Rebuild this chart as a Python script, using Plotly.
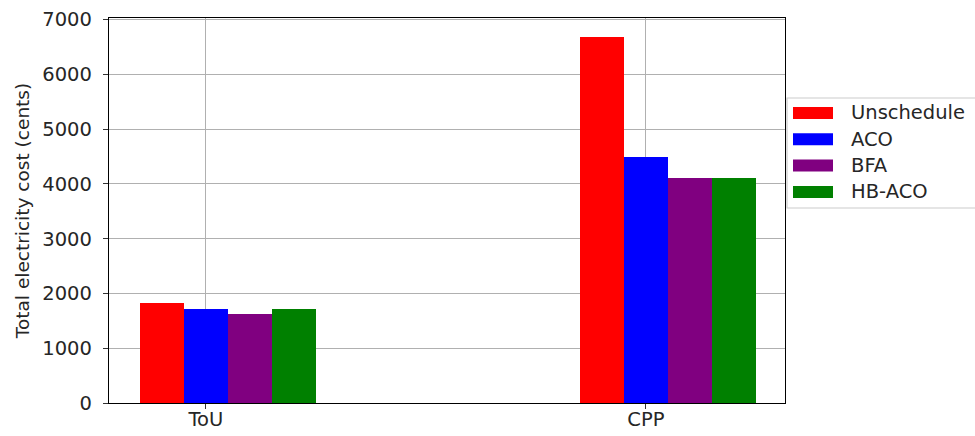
import plotly.graph_objects as go

# Cost comparison of scheduling schemes under two pricing tariffs
tariffs = ["ToU", "CPP"]
schemes = ["Unschedule", "ACO", "BFA", "HB-ACO"]
colors = ["red", "blue", "purple", "green"]
unschedule = [1820, 6690]
aco = [1720, 4500]
bfa = [1630, 4110]
hb_aco = [1720, 4110]
series = [unschedule, aco, bfa, hb_aco]
y_ticks = [0, 1000, 2000, 3000, 4000, 5000, 6000, 7000]

W, H = 975, 436
ML, MR, MT, MB = 109, 190, 18, 33
FONT = "DejaVu Sans"
FS = 19.5

bar_w = 0.1
base = list(range(len(tariffs)))

fig = go.Figure()
for i, (name, vals, col) in enumerate(zip(schemes, series, colors)):
    fig.add_trace(go.Bar(
        x=[b + (i - 1) * bar_w for b in base],
        y=vals,
        width=bar_w,
        name=name,
        marker=dict(color=col, line=dict(width=0)),
        showlegend=False,
    ))

pw = W - ML - MR
ph = H - MT - MB


def px_x(p):
    return (p - ML) / pw


def px_y(p):
    return 1 - (p - MT) / ph


# legend box with wide colour swatches
box_l, box_t, box_b = 787, 98, 208
fig.add_shape(type="rect", xref="paper", yref="paper",
              x0=px_x(box_l), x1=px_x(W + 20), y0=px_y(box_b), y1=px_y(box_t),
              line=dict(color="#cccccc", width=1.2), fillcolor="white",
              layer="above")
row0, row_gap = 113, 26.3
for i, (name, col) in enumerate(zip(schemes, colors)):
    cy = row0 + i * row_gap
    fig.add_shape(type="rect", xref="paper", yref="paper",
                  x0=px_x(793), x1=px_x(833), y0=px_y(cy + 6), y1=px_y(cy - 6),
                  line=dict(width=0), fillcolor=col, layer="above")
    fig.add_annotation(xref="paper", yref="paper", x=px_x(849), y=px_y(cy),
                       text=name, showarrow=False, xanchor="left",
                       yanchor="middle",
                       font=dict(family=FONT, size=FS, color="#262626"))

axis_common = dict(
    showline=True, linecolor="black", linewidth=1.3, mirror=True,
    ticks="outside", ticklen=5, tickwidth=1.2, tickcolor="#333",
    showgrid=True, gridcolor="#b0b0b0", gridwidth=1.2,
    zeroline=False, layer="above traces", automargin=False,
    tickfont=dict(family=FONT, size=FS, color="#262626"),
)

fig.update_layout(
    width=W, height=H,
    margin=dict(l=ML, r=MR, t=MT, b=MB, pad=0),
    paper_bgcolor="white", plot_bgcolor="white",
    barmode="overlay", bargap=0,
    xaxis=dict(range=[-0.22, 1.316], tickvals=base, ticktext=tariffs,
               ticklabelstandoff=-7, **axis_common),
    yaxis=dict(range=[0, 7030], tickvals=y_ticks, ticklabelstandoff=7,
               title=dict(text="Total electricity cost (cents)",
                          font=dict(family=FONT, size=18.5, color="#262626"),
                          standoff=7),
               **axis_common),
)

fig.write_html("out.html")
